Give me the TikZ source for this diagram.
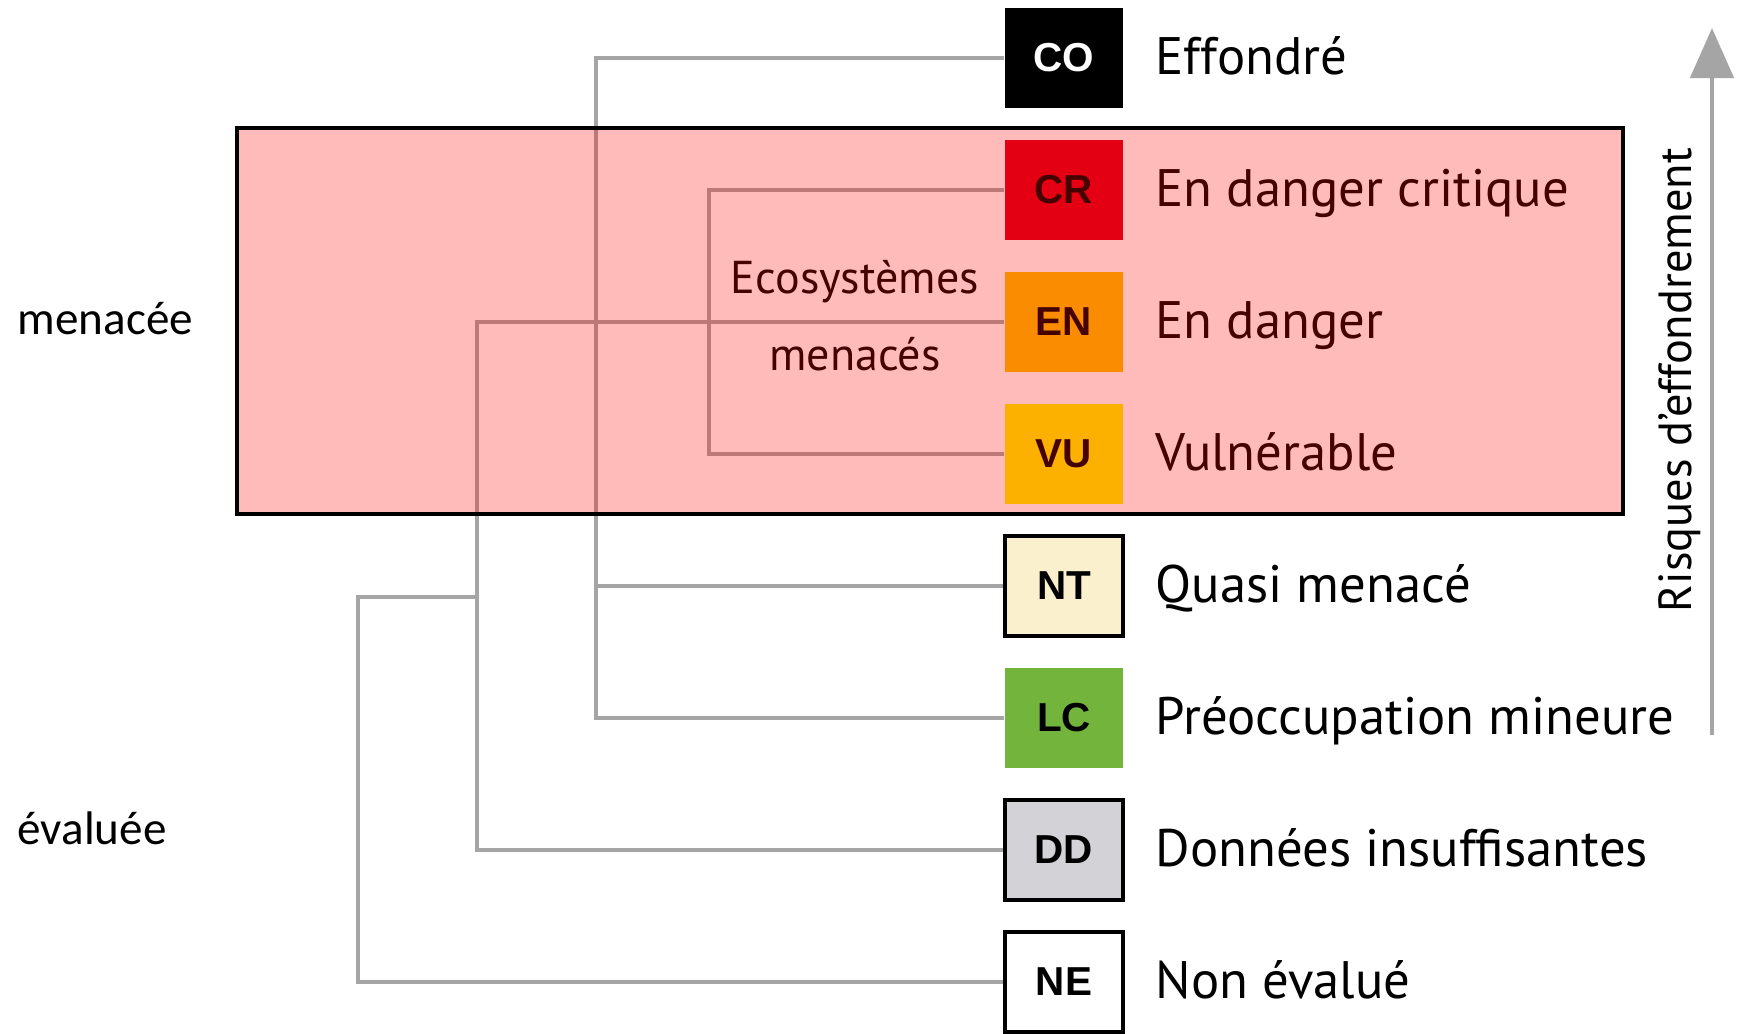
\documentclass[tikz,border=0pt]{standalone}
\usepackage{fontspec}
\setmainfont{PT Sans}
\newfontfamily\codefont{Liberation Sans}
\newfontfamily\sidefont{Carlito}
\usetikzlibrary{arrows.meta}

\definecolor{colCR}{RGB}{218,0,25}
\definecolor{colEN}{RGB}{248,192,0}
\definecolor{colVU}{RGB}{251,244,0}
\definecolor{colNT}{RGB}{250,240,205}
\definecolor{colLC}{RGB}{115,180,60}
\definecolor{colDD}{RGB}{210,210,215}
\definecolor{linegrey}{RGB}{165,165,165}

\tikzset{
  catbox/.style={minimum width=1.18cm, minimum height=1cm, inner sep=0pt,
    font=\codefont\bfseries\fontsize{11.5}{13}\selectfont},
  framedbox/.style={catbox, draw=black, line width=0.9pt},
  catlabel/.style={anchor=base west, inner sep=0pt, font=\fontsize{15}{18}\selectfont},
  sidelabel/.style={anchor=base west, inner sep=0pt, font=\sidefont\fontsize{13.4}{16}\selectfont},
  conn/.style={draw=linegrey, line width=1.2pt},
}

\begin{document}
\begin{tikzpicture}[x=0.01cm, y=-0.01cm]

\useasboundingbox (0,0) rectangle (1747,1034);

% category boxes
\node[catbox, fill=black, text=white] (CO) at (1064,58) {CO};
\node[catbox, fill=colCR] (CR) at (1064,190) {CR};
\node[catbox, fill=colEN] (EN) at (1064,322) {EN};
\node[catbox, fill=colVU] (VU) at (1064,454) {VU};
\node[framedbox, fill=colNT] (NT) at (1064,586) {NT};
\node[catbox, fill=colLC] (LC) at (1064,718) {LC};
\node[framedbox, fill=colDD] (DD) at (1064,850) {DD};
\node[framedbox, fill=white] (NE) at (1064,982) {NE};

% names
\node[catlabel] (lCO) at (1155,75) {Effondré};
\node[catlabel] (lCR) at (1155,207) {En danger critique};
\node[catlabel] (lEN) at (1155,339) {En danger};
\node[catlabel] (lVU) at (1155,471) {Vulnérable};
\node[catlabel] (lNT) at (1155,603) {Quasi menacé};
\node[catlabel] (lLC) at (1155,735) {Préoccupation mineure};
\node[catlabel] (lDD) at (1155,867) {Données insuffisantes};
\node[catlabel] (lNE) at (1155,999) {Non évalué};

% tree
\coordinate (jA) at (596,0);
\coordinate (jB) at (709,0);
\coordinate (jC) at (477,0);
\coordinate (ev) at (477,597);
\coordinate (jD) at (358,597);

\draw[conn] (CO.west) -- (CO.west -| jA) -- (LC.west -| jA) -- (LC.west);
\draw[conn] (NT.west -| jA) -- (NT.west);
\draw[conn] (CR.west) -- (CR.west -| jB) -- (VU.west -| jB) -- (VU.west);
\draw[conn] (EN.west) -- (EN.west -| jC) -- (DD.west -| jC) -- (DD.west);
\draw[conn] (ev) -- (jD) |- (NE.west);

\node[align=center, font=\fontsize{13.1}{22}\selectfont] (eco) at (855,316) {Ecosystèmes\\menacés};

% threatened zone
\fill[red, fill opacity=0.27] (237,128) rectangle (1623,514);
\draw[black, line width=0.9pt] (237,128) rectangle (1623,514);

\node[sidelabel] (menacee) at (17,335) {menacée};
\node[sidelabel] (evaluee) at (17,845) {évaluée};

% risk axis
\coordinate (risklow) at (1712,735);
\coordinate (riskhigh) at (1712,28);
\draw[linegrey, line width=1.3pt, -{Triangle[width=0.43cm, length=0.5cm]}] (risklow) -- (riskhigh);
\node[rotate=90, font=\fontsize{13.2}{15}\selectfont] (risk) at (1680,380) {Risques d'effondrement};

\end{tikzpicture}
\end{document}
